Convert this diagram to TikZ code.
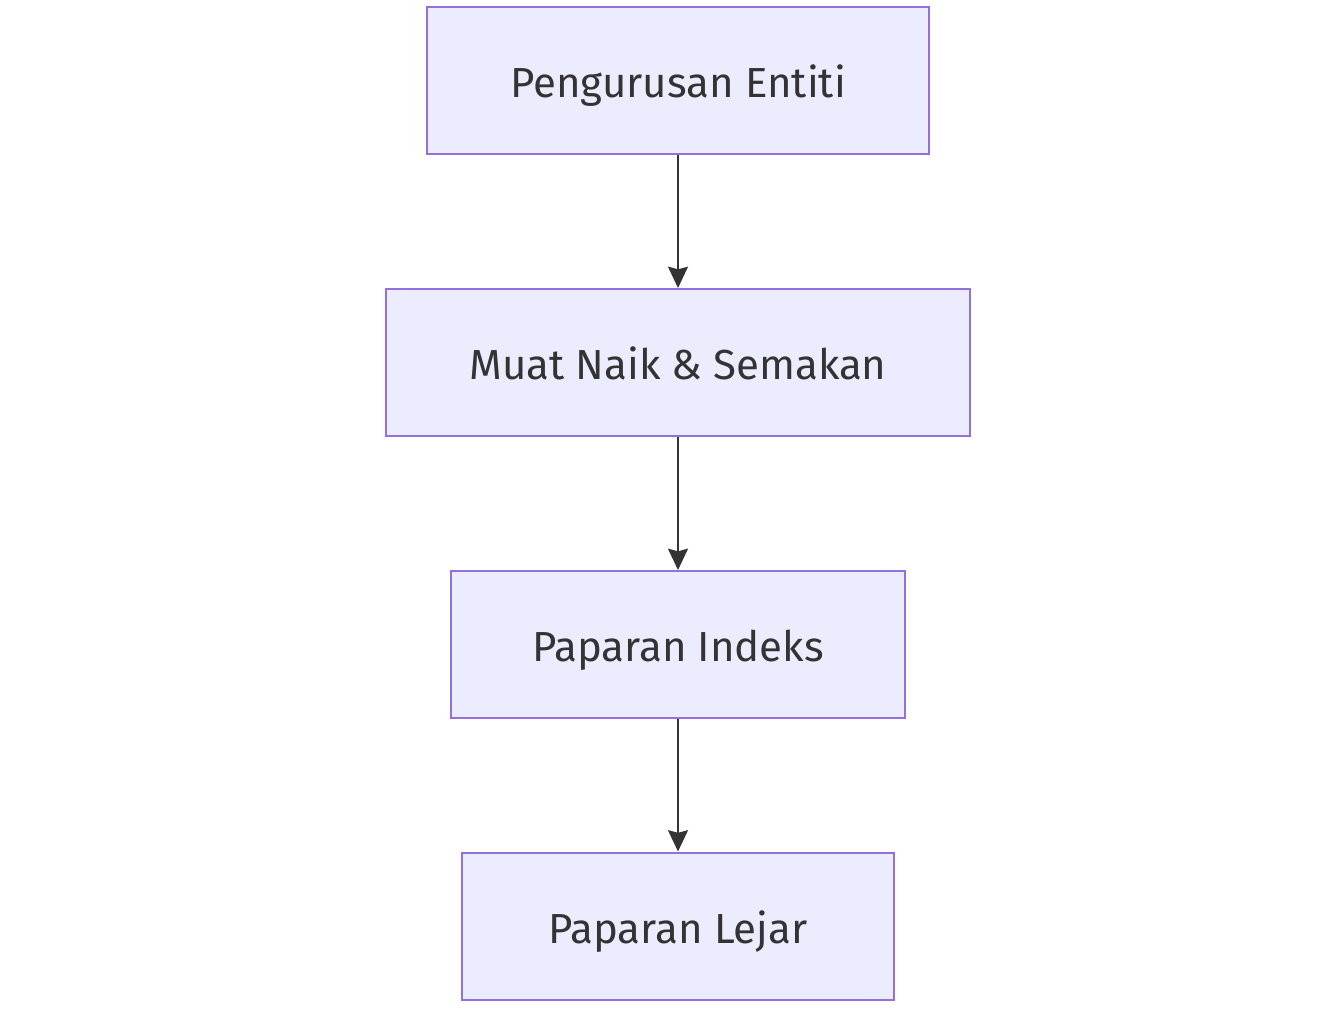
\documentclass[tikz,border=0pt]{standalone}
\usepackage{fontspec}
\setmainfont{Fira Sans}
\usetikzlibrary{arrows.meta}
\definecolor{boxfill}{HTML}{ECECFF}
\definecolor{boxline}{HTML}{9370DB}
\definecolor{ink}{HTML}{333333}
\begin{document}
\begin{tikzpicture}[x=0.75pt,y=-0.75pt,
  stepbox/.style={draw=boxline,fill=boxfill,line width=1.5pt,rectangle,inner sep=0pt,
    text=ink,font=\fontsize{31.5}{38}\selectfont,minimum height=110.25pt,
    text height=30pt,text depth=4pt},
  link/.style={draw=ink,line width=1.5pt,-{Stealth[length=16pt,width=15pt,inset=2pt]}}]
\useasboundingbox[fill=white] (0,0) rectangle (1327,1014);
\node[stepbox,minimum width=376.5pt] (a) at (678,80.5) {Pengurusan Entiti};
\node[stepbox,minimum width=438pt] (b) at (678,362.5) {Muat Naik \& Semakan};
\node[stepbox,minimum width=340.5pt] (c) at (678,644.5) {Paparan Indeks};
\node[stepbox,minimum width=324pt] (d) at (678,926) {Paparan Lejar};
\draw[link] (a.south) -- (b.north);
\draw[link] (b.south) -- (c.north);
\draw[link] (c.south) -- (d.north);
\end{tikzpicture}
\end{document}
